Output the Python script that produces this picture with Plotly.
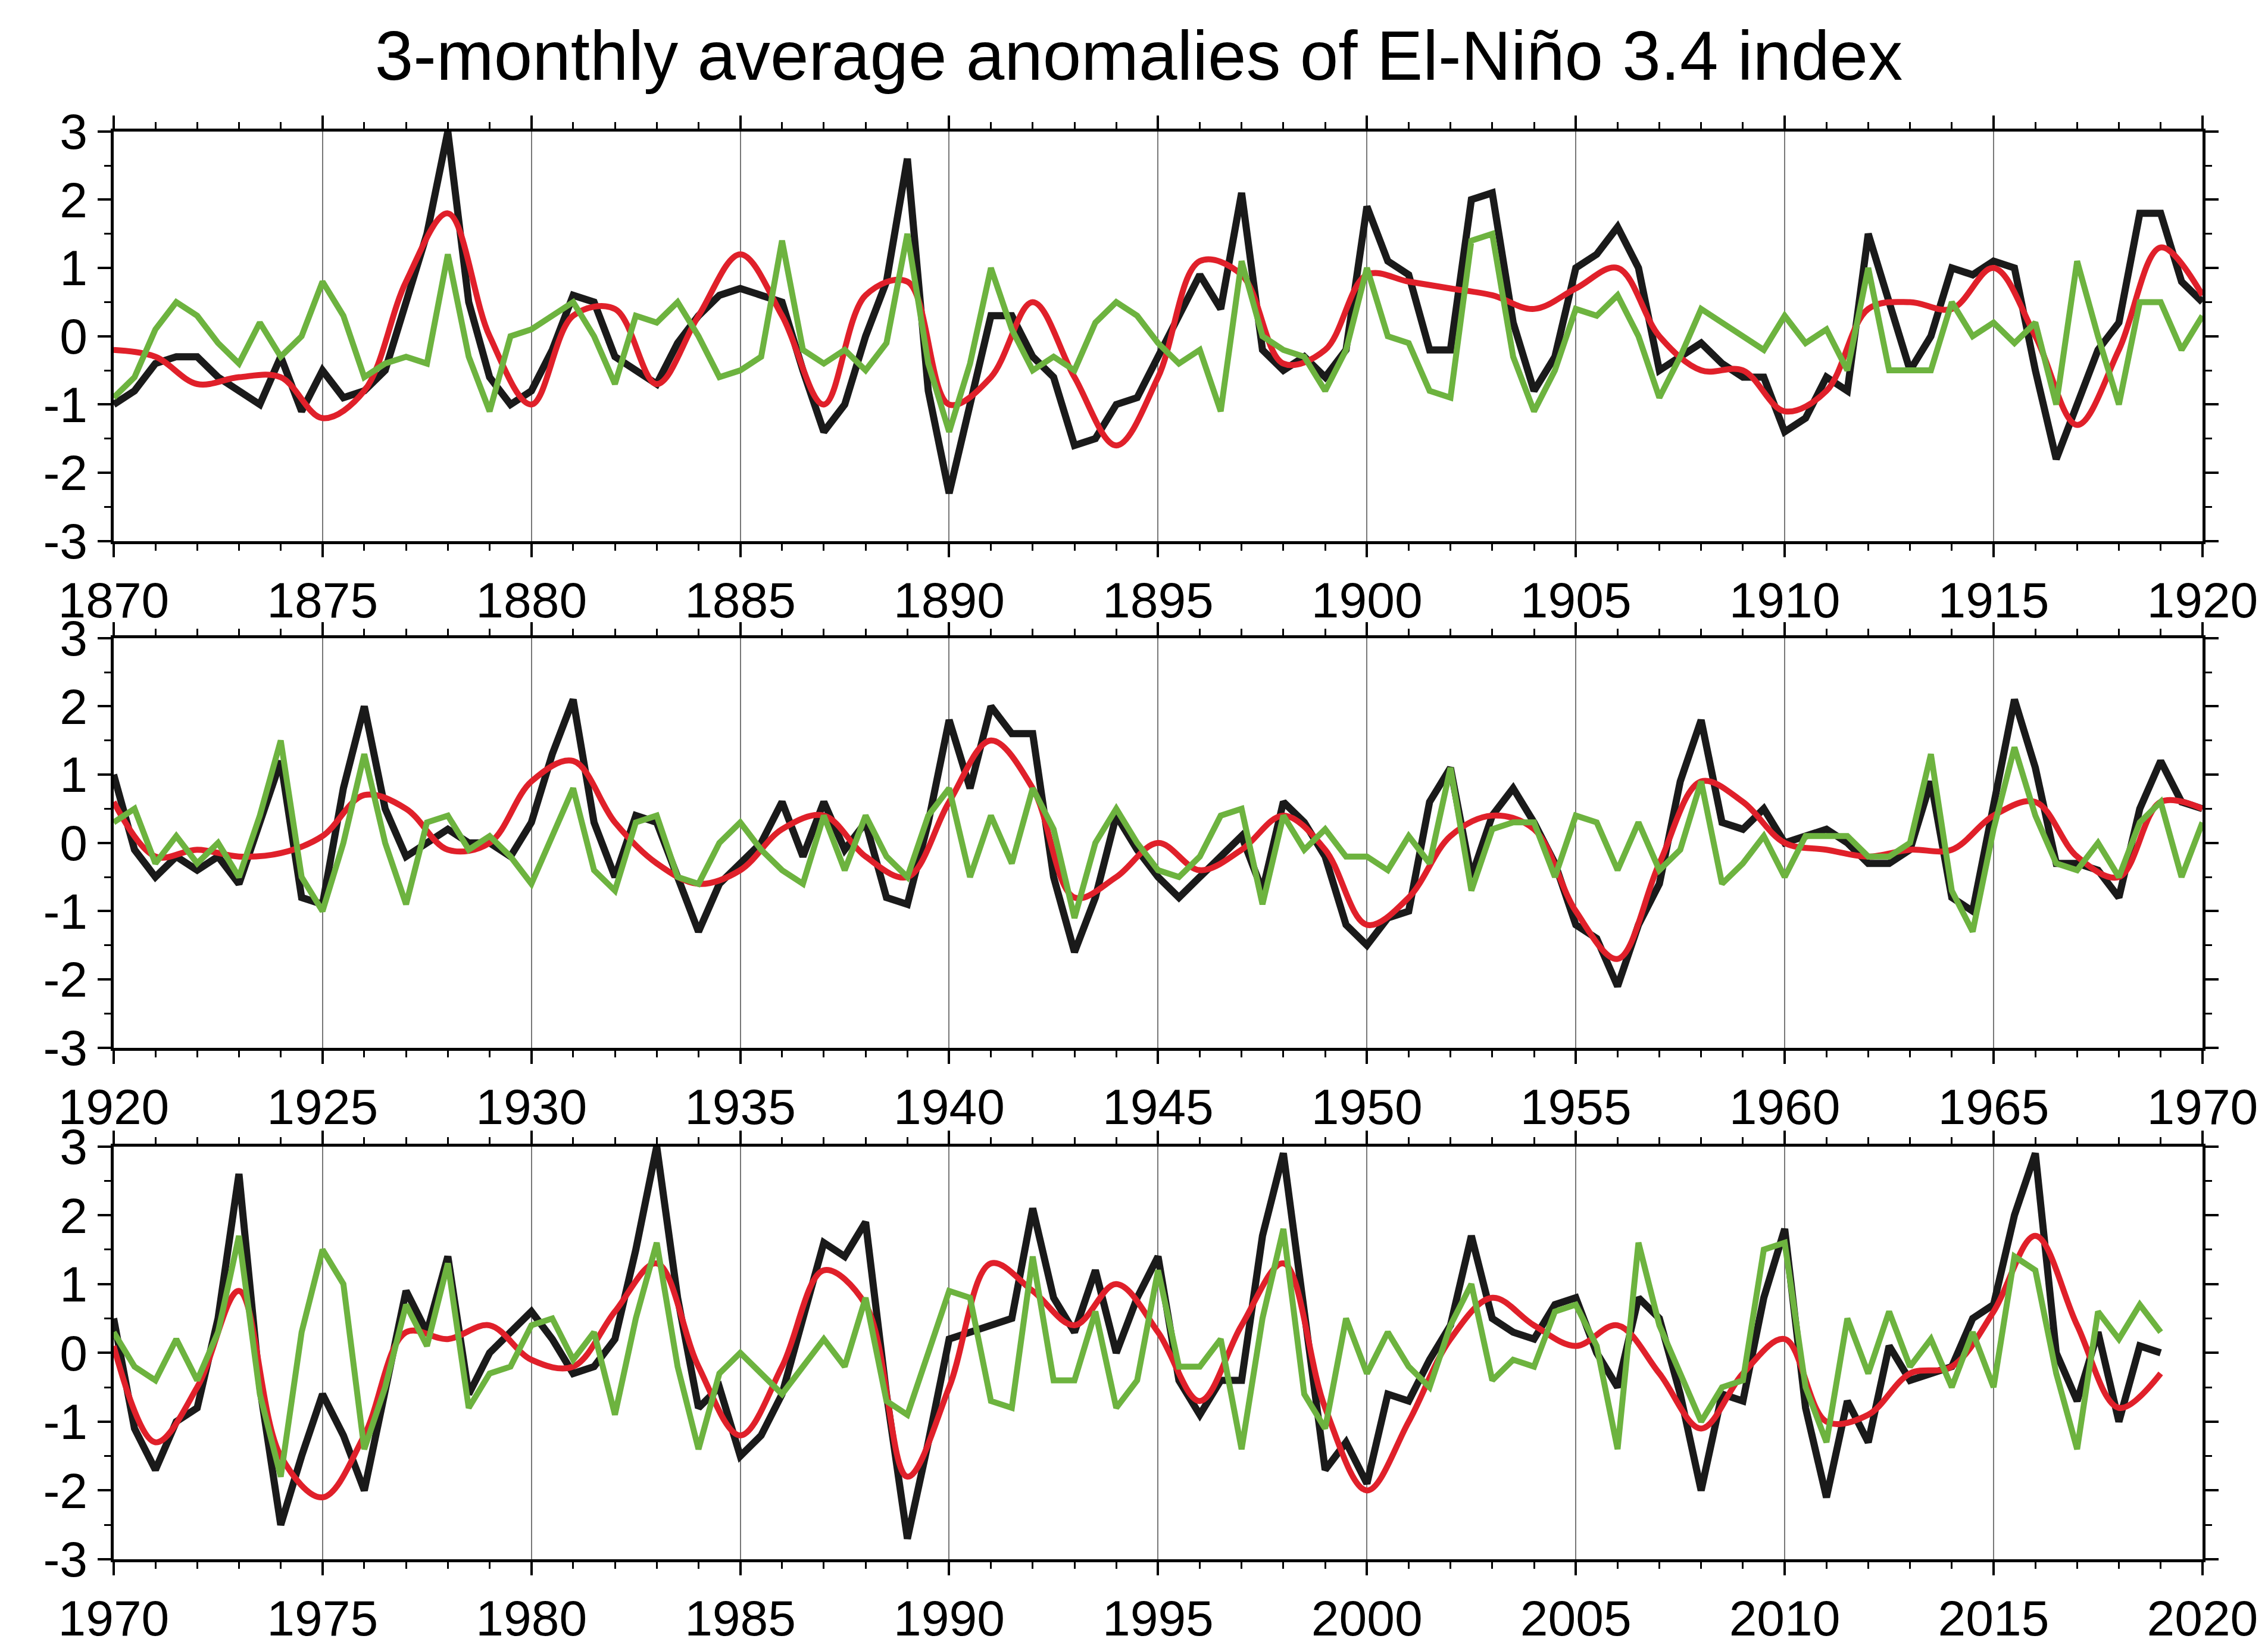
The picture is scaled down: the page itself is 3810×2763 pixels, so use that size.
import numpy as np
import plotly.graph_objects as go

starts = [1870, 1920, 1970]

black1 = [-1.0,-0.8,-0.4,-0.3,-0.3,-0.6,-0.8,-1.0,-0.3,-1.1,-0.5,-0.9,-0.8,-0.5,0.5,1.5,3.0,0.5,-0.6,-1.0,
          -0.8,-0.2,0.6,0.5,-0.3,-0.5,-0.7,-0.1,0.3,0.6,0.7,0.6,0.5,-0.5,-1.4,-1.0,0.0,0.8,2.6,-0.8,
          -2.3,-1.0,0.3,0.3,-0.3,-0.6,-1.6,-1.5,-1.0,-0.9,-0.3,0.3,0.9,0.4,2.1,-0.2,-0.5,-0.3,-0.6,-0.2,
          1.9,1.1,0.9,-0.2,-0.2,2.0,2.1,0.2,-0.8,-0.3,1.0,1.2,1.6,1.0,-0.5,-0.3,-0.1,-0.4,-0.6,-0.6,
          -1.4,-1.2,-0.6,-0.8,1.5,0.5,-0.5,0.0,1.0,0.9,1.1,1.0,-0.5,-1.8,-1.0,-0.2,0.2,1.8,1.8,0.8,0.5]
green1 = [-0.9,-0.6,0.1,0.5,0.3,-0.1,-0.4,0.2,-0.3,0.0,0.8,0.3,-0.6,-0.4,-0.3,-0.4,1.2,-0.3,-1.1,0.0,
          0.1,0.3,0.5,0.0,-0.7,0.3,0.2,0.5,0.0,-0.6,-0.5,-0.3,1.4,-0.2,-0.4,-0.2,-0.5,-0.1,1.5,-0.4,
          -1.4,-0.4,1.0,0.1,-0.5,-0.3,-0.5,0.2,0.5,0.3,-0.1,-0.4,-0.2,-1.1,1.1,0.0,-0.2,-0.3,-0.8,-0.2,
          1.0,0.0,-0.1,-0.8,-0.9,1.4,1.5,-0.3,-1.1,-0.5,0.4,0.3,0.6,0.0,-0.9,-0.3,0.4,0.2,0.0,-0.2,
          0.3,-0.1,0.1,-0.5,1.0,-0.5,-0.5,-0.5,0.5,0.0,0.2,-0.1,0.2,-1.0,1.1,0.0,-1.0,0.5,0.5,-0.2,0.3]
red1 = [-0.2,-0.3,-0.7,-0.6,-0.6,-1.2,-0.8,0.8,1.8,0.0,-1.0,0.3,0.4,-0.7,0.3,1.2,0.3,-1.0,0.6,0.8,
        -1.0,-0.6,0.5,-0.6,-1.6,-0.6,1.1,0.9,-0.4,-0.2,0.9,0.8,0.7,0.6,0.4,0.7,1.0,0.0,-0.5,-0.5,
        -1.1,-0.8,0.4,0.5,0.4,1.0,0.0,-1.3,-0.2,1.3,0.6]

black2 = [1.0,-0.1,-0.5,-0.2,-0.4,-0.2,-0.6,0.3,1.2,-0.8,-0.9,0.8,2.0,0.5,-0.2,0.0,0.2,0.0,0.0,-0.2,
          0.3,1.3,2.1,0.3,-0.5,0.4,0.3,-0.5,-1.3,-0.6,-0.3,0.0,0.6,-0.2,0.6,-0.1,0.3,-0.8,-0.9,0.3,
          1.8,0.8,2.0,1.6,1.6,-0.5,-1.6,-0.8,0.4,-0.1,-0.5,-0.8,-0.5,-0.2,0.1,-0.7,0.6,0.3,-0.2,-1.2,
          -1.5,-1.1,-1.0,0.6,1.1,-0.5,0.4,0.8,0.3,-0.3,-1.2,-1.4,-2.1,-1.2,-0.6,0.9,1.8,0.3,0.2,0.5,
          0.0,0.1,0.2,0.0,-0.3,-0.3,-0.1,0.9,-0.8,-1.0,0.5,2.1,1.1,-0.3,-0.3,-0.4,-0.8,0.5,1.2,0.6,0.5]
green2 = [0.3,0.5,-0.3,0.1,-0.3,0.0,-0.5,0.4,1.5,-0.5,-1.0,0.0,1.3,0.0,-0.9,0.3,0.4,-0.1,0.1,-0.2,
          -0.6,0.1,0.8,-0.4,-0.7,0.3,0.4,-0.5,-0.6,0.0,0.3,-0.1,-0.4,-0.6,0.4,-0.4,0.4,-0.2,-0.5,0.4,
          0.8,-0.5,0.4,-0.3,0.8,0.2,-1.1,0.0,0.5,0.0,-0.4,-0.5,-0.2,0.4,0.5,-0.9,0.4,-0.1,0.2,-0.2,
          -0.2,-0.4,0.1,-0.3,1.1,-0.7,0.2,0.3,0.3,-0.5,0.4,0.3,-0.4,0.3,-0.4,-0.1,0.9,-0.6,-0.3,0.1,
          -0.5,0.1,0.1,0.1,-0.2,-0.2,0.0,1.3,-0.7,-1.3,0.2,1.4,0.4,-0.3,-0.4,0.0,-0.5,0.3,0.6,-0.5,0.3]
red2 = [0.6,-0.2,-0.1,-0.2,-0.15,0.1,0.7,0.5,-0.1,0.0,0.9,1.2,0.3,-0.3,-0.6,-0.4,0.2,0.4,-0.2,-0.5,
        0.6,1.5,0.8,-0.8,-0.5,0.0,-0.4,-0.1,0.4,-0.1,-1.2,-0.8,0.1,0.4,0.2,-1.0,-1.7,-0.3,0.9,0.6,
        0.0,-0.1,-0.2,-0.1,-0.1,0.4,0.6,-0.2,-0.5,0.6,0.5]

black3 = [0.5,-1.1,-1.7,-1.0,-0.8,0.5,2.6,-0.5,-2.5,-1.5,-0.6,-1.2,-2.0,-0.5,0.9,0.3,1.4,-0.6,0.0,0.3,
          0.6,0.2,-0.3,-0.2,0.2,1.5,3.0,0.8,-0.8,-0.5,-1.5,-1.2,-0.6,0.5,1.6,1.4,1.9,-0.6,-2.7,-1.3,
          0.2,0.3,0.4,0.5,2.1,0.8,0.3,1.2,0.0,0.8,1.4,-0.4,-0.9,-0.4,-0.4,1.7,2.9,0.5,-1.7,-1.3,
          -1.9,-0.6,-0.7,-0.1,0.4,1.7,0.5,0.3,0.2,0.7,0.8,0.0,-0.5,0.8,0.5,-0.6,-2.0,-0.6,-0.7,0.8,
          1.8,-0.8,-2.1,-0.7,-1.3,0.1,-0.4,-0.3,-0.2,0.5,0.7,2.0,2.9,0.0,-0.7,0.3,-1.0,0.1,0.0]
green3 = [0.3,-0.2,-0.4,0.2,-0.4,0.3,1.7,-0.6,-1.8,0.3,1.5,1.0,-1.4,-0.5,0.7,0.1,1.3,-0.8,-0.3,-0.2,
          0.4,0.5,-0.1,0.3,-0.9,0.5,1.6,-0.2,-1.4,-0.3,0.0,-0.3,-0.6,-0.2,0.2,-0.2,0.8,-0.7,-0.9,0.0,
          0.9,0.8,-0.7,-0.8,1.4,-0.4,-0.4,0.6,-0.8,-0.4,1.2,-0.2,-0.2,0.2,-1.4,0.5,1.8,-0.6,-1.1,0.5,
          -0.3,0.3,-0.2,-0.5,0.4,1.0,-0.4,-0.1,-0.2,0.6,0.7,0.1,-1.4,1.6,0.4,-0.3,-1.0,-0.5,-0.4,1.5,
          1.6,-0.5,-1.3,0.5,-0.3,0.6,-0.2,0.2,-0.5,0.3,-0.5,1.4,1.2,-0.3,-1.4,0.6,0.2,0.7,0.3]
red3 = [0.1,-1.3,-0.5,0.9,-1.5,-2.1,-1.2,0.3,0.2,0.4,-0.1,-0.2,0.6,1.3,-0.2,-1.2,-0.2,1.2,0.7,-1.8,
        -0.5,1.3,0.9,0.4,1.0,0.3,-0.7,0.4,1.3,-0.8,-2.0,-1.0,0.2,0.8,0.4,0.1,0.4,-0.3,-1.1,-0.3,
        0.2,-1.0,-0.9,-0.3,-0.2,0.6,1.7,0.4,-0.8,-0.3]

y_ticks = [-3, -2, -1, 0, 1, 2, 3]
y_labels = ["-3", "-2", "-1", "0", "1", "2", "3"]
title = "3-monthly average anomalies of El-Niño 3.4 index"
blacks, greens, reds = [black1, black2, black3], [green1, green2, green3], [red1, red2, red3]

BLACK, RED, GREEN = "#1a1a1a", "#e0202a", "#6db33f"
FONT = "Liberation Sans"
domains = [(0.674, 0.923), (0.366, 0.615), (0.055, 0.306)]

fig = go.Figure()
for i, s in enumerate(starts):
    xa = "x" if i == 0 else f"x{i+1}"
    ya = "y" if i == 0 else f"y{i+1}"
    xb = s + 0.5 * np.arange(len(blacks[i]))
    xg = s + 0.5 * np.arange(len(greens[i]))
    xr = s + np.arange(len(reds[i]))
    fig.add_trace(go.Scatter(x=xb, y=blacks[i], mode="lines", line=dict(color=BLACK, width=12),
                             xaxis=xa, yaxis=ya, showlegend=False))
    fig.add_trace(go.Scatter(x=xr, y=reds[i], mode="lines", line=dict(color=RED, width=10, shape="spline", smoothing=1.0),
                             xaxis=xa, yaxis=ya, showlegend=False))
    fig.add_trace(go.Scatter(x=xg, y=greens[i], mode="lines", line=dict(color=GREEN, width=10),
                             xaxis=xa, yaxis=ya, showlegend=False))
    ax = dict(range=[s, s + 50], domain=[0.048, 0.969], anchor=ya, automargin=False,
              tickmode="array", tickvals=list(range(s, s + 51, 5)), ticktext=[str(v) for v in range(s, s + 51, 5)],
              ticks="outside", ticklen=22, tickwidth=4, tickcolor="black",
              minor=dict(dtick=1, ticklen=11, tickwidth=3, tickcolor="black", showgrid=False),
              showgrid=True, gridcolor="#777777", gridwidth=2,
              showline=True, linecolor="black", linewidth=5, mirror="ticks",
              zeroline=False, tickfont=dict(size=84, family=FONT, color="black"))
    ay = dict(range=[-3, 3], domain=list(domains[i]), anchor=xa, automargin=False,
              tickmode="array", tickvals=y_ticks, ticktext=y_labels,
              ticks="outside", ticklen=22, tickwidth=4, tickcolor="black",
              minor=dict(tickvals=[-2.5, -1.5, -0.5, 0.5, 1.5, 2.5], ticklen=11, tickwidth=3, tickcolor="black"),
              showgrid=False, showline=True, linecolor="black", linewidth=5, mirror="ticks",
              zeroline=False, tickfont=dict(size=84, family=FONT, color="black"))
    fig.layout["xaxis" if i == 0 else f"xaxis{i+1}"] = ax
    fig.layout["yaxis" if i == 0 else f"yaxis{i+1}"] = ay

fig.update_layout(
    width=3810, height=2763, plot_bgcolor="white", paper_bgcolor="white",
    margin=dict(l=0, r=0, t=0, b=0),
    title=dict(text=title, x=0.5, xanchor="center", y=0.969, yanchor="middle",
               font=dict(size=116, family=FONT, color="black")),
)
fig.write_html("out.html")
